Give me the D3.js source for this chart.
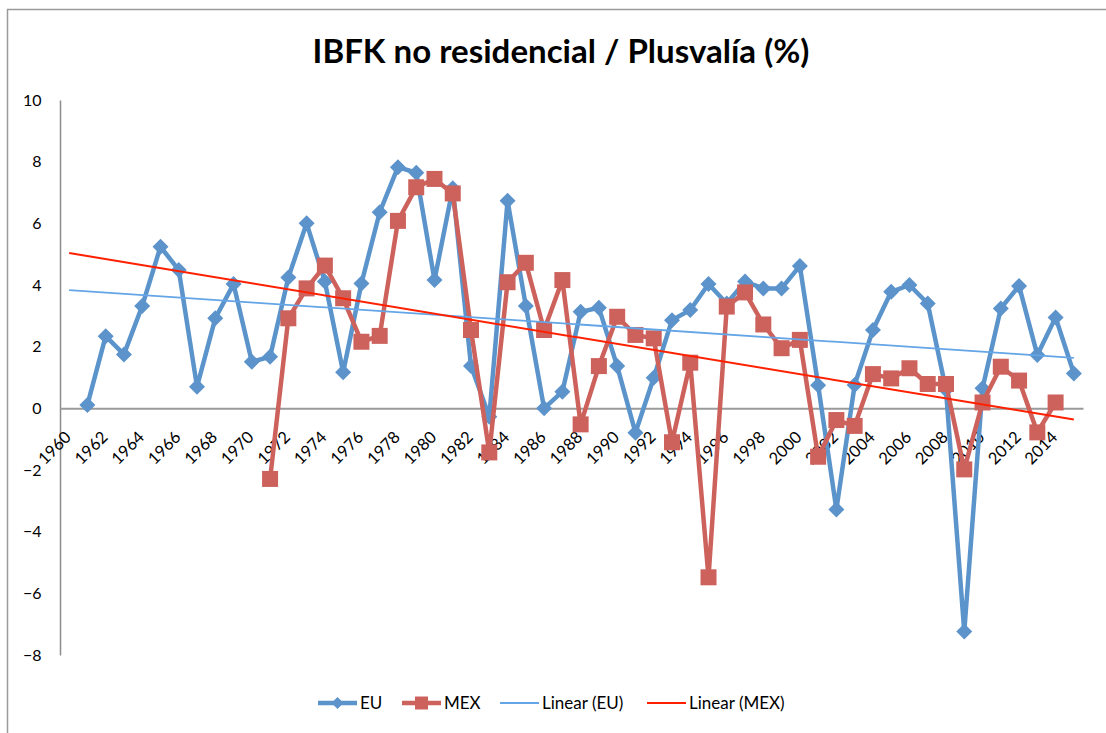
<!DOCTYPE html>
<html>
<head>
  <meta charset="utf-8">
  <title>IBFK no residencial / Plusvalía</title>
  <script src="https://d3js.org/d3.v7.min.js"></script>
  <style>
    body { margin: 0; background: #fff; }
    text { font-family: Lato, "Open Sans", sans-serif; fill: #000; }
  </style>
</head>
<body>
<script>
  // years on the category axis (labels every second year)
  var years = d3.range(1960, 2016);

  // EU series, 1960..2015 (null = no value)
  var eu = [null, 0.11, 2.34, 1.75, 3.32, 5.24, 4.49, 0.70, 2.92, 4.03,
            1.51, 1.67, 4.24, 6.00, 4.11, 1.17, 4.05, 6.36, 7.82, 7.64,
            4.16, 7.14, 1.37, -0.27, 6.73, 3.32, 0.00, 0.54, 3.13, 3.26,
            1.37, -0.79, 0.99, 2.86, 3.19, 4.03, 3.40, 4.11, 3.89, 3.89,
            4.62, 0.75, -3.28, 0.76, 2.54, 3.78, 4.00, 3.40, 0.60, -7.24,
            0.65, 3.24, 3.97, 1.73, 2.95, 1.13];

  // MEX series, 1960..2015
  var mex = [null, null, null, null, null, null, null, null, null, null,
             null, -2.29, 2.92, 3.89, 4.63, 3.57, 2.16, 2.35, 6.08, 7.17,
             7.44, 6.97, 2.54, -1.43, 4.09, 4.72, 2.54, 4.16, -0.52, 1.37,
             2.97, 2.38, 2.27, -1.10, 1.48, -5.48, 3.30, 3.76, 2.72, 1.95,
             2.22, -1.57, -0.38, -0.57, 1.11, 0.97, 1.30, 0.79, 0.79, -1.98,
             0.19, 1.35, 0.90, -0.78, 0.19, null];

  var yTicks = [-8, -6, -4, -2, 0, 2, 4, 6, 8, 10];
  var legendLabels = ["EU", "MEX", "Linear (EU)", "Linear (MEX)"];

  var W = 1106, H = 733;
  var euColor = "#5b93cb", mexColor = "#cd625d";
  var euTrendColor = "#63a5e6", mexTrendColor = "#ff2000";

  var svg = d3.select("body").append("svg")
      .attr("width", W)
      .attr("height", H);

  svg.append("rect")
      .attr("x", 7.5).attr("y", 9.5)
      .attr("width", W + 20).attr("height", H + 20)
      .attr("fill", "#fff")
      .attr("stroke", "#9a9a9a")
      .attr("stroke-width", 1.5);

  var defs = svg.append("defs");
  defs.append("filter").attr("id", "soft")
    .append("feGaussianBlur").attr("stdDeviation", 0.7);

  var x = d3.scaleBand().domain(years).range([60, 1083]);
  var y = d3.scaleLinear().domain([-8, 10]).range([655, 100]);
  var cx = function(yr) { return x(yr) + x.bandwidth() / 2; };

  // title, fitted to the width seen in the reference
  var title = svg.append("text")
      .attr("x", 561).attr("y", 63)
      .attr("text-anchor", "middle")
      .style("font-weight", "bold")
      .style("font-size", "30px")
      .text("IBFK no residencial / Plusvalía (%)");
  var tw = title.node().getComputedTextLength();
  title.style("font-size", (30 * 497 / tw) + "px");

  // y axis
  var yAxis = svg.append("g")
      .attr("transform", "translate(60,0)")
      .call(d3.axisLeft(y).tickValues(yTicks).tickSize(0).tickPadding(18.5));
  yAxis.select(".domain").attr("stroke", "#8c8c8c").attr("stroke-width", 1.5);
  yAxis.selectAll("text")
      .style("font-size", "16px")
      .style("font-family", "Lato, sans-serif");

  // x axis at zero
  var xAxis = svg.append("g")
      .attr("transform", "translate(0," + y(0) + ")")
      .call(d3.axisBottom(x)
        .tickValues(years.filter(function(d) { return d % 2 === 0; }))
        .tickSize(0).tickSizeOuter(0));
  xAxis.select(".domain").attr("stroke", "#9a9a9a").attr("stroke-width", 2);
  xAxis.selectAll("text")
      .style("font-size", "16.5px")
      .style("font-family", "Lato, sans-serif")
      .attr("text-anchor", "end")
      .attr("dy", null)
      .attr("y", 0)
      .attr("transform", "translate(3,30) rotate(-45)");

  function series(vals) {
    return years.map(function(yr, i) { return {year: yr, v: vals[i]}; });
  }

  function trend(vals) {
    var pts = [];
    vals.forEach(function(v, i) { if (v != null) pts.push([i + 1, v]); });
    var mx = d3.mean(pts, function(p) { return p[0]; });
    var my = d3.mean(pts, function(p) { return p[1]; });
    var sxy = d3.sum(pts, function(p) { return (p[0] - mx) * (p[1] - my); });
    var sxx = d3.sum(pts, function(p) { return (p[0] - mx) * (p[0] - mx); });
    var b = sxy / sxx, a = my - b * mx;
    return [{year: years[0], v: a + b * 1},
            {year: years[years.length - 1], v: a + b * years.length}];
  }

  var line = d3.line()
      .defined(function(d) { return d.v != null; })
      .x(function(d) { return cx(d.year); })
      .y(function(d) { return y(d.v); });

  var diamond = "M0,-8L8,0L0,8L-8,0Z";
  var square = "M-8,-8H8V8H-8Z";

  var euData = series(eu), mexData = series(mex);

  svg.append("path").datum(euData)
      .attr("d", line)
      .attr("fill", "none")
      .attr("stroke", euColor)
      .attr("stroke-width", 4.5)
      .attr("stroke-linejoin", "round");
  svg.append("g").attr("filter", "url(#soft)")
    .selectAll("path")
    .data(euData.filter(function(d) { return d.v != null; }))
    .enter().append("path")
      .attr("d", diamond)
      .attr("fill", euColor)
      .attr("transform", function(d) { return "translate(" + cx(d.year) + "," + y(d.v) + ")"; });

  svg.append("path").datum(mexData)
      .attr("d", line)
      .attr("fill", "none")
      .attr("stroke", mexColor)
      .attr("stroke-width", 4.5)
      .attr("stroke-linejoin", "round");
  svg.append("g")
    .selectAll("path")
    .data(mexData.filter(function(d) { return d.v != null; }))
    .enter().append("path")
      .attr("d", square)
      .attr("fill", mexColor)
      .attr("transform", function(d) { return "translate(" + cx(d.year) + "," + y(d.v) + ")"; });

  svg.append("path").datum(trend(eu))
      .attr("d", line)
      .attr("fill", "none")
      .attr("stroke", euTrendColor)
      .attr("stroke-width", 1.8);
  svg.append("path").datum(trend(mex))
      .attr("d", line)
      .attr("fill", "none")
      .attr("stroke", mexTrendColor)
      .attr("stroke-width", 2);

  // legend
  var legX = [318, 402, 500, 647];
  var legend = svg.append("g").attr("transform", "translate(0,703)");
  legendLabels.forEach(function(lbl, i) {
    var g = legend.append("g").attr("transform", "translate(" + legX[i] + ",0)");
    var col = [euColor, mexColor, euTrendColor, mexTrendColor][i];
    g.append("line").attr("x1", 0).attr("x2", 39)
        .attr("stroke", col).attr("stroke-width", i < 2 ? 4.5 : 1.8);
    if (i === 0) g.append("path").attr("d", "M0,-6L6,0L0,6L-6,0Z").attr("fill", col)
        .attr("transform", "translate(19.5,0)").attr("filter", "url(#soft)");
    if (i === 1) g.append("path").attr("d", "M-6.5,-6.5H6.5V6.5H-6.5Z").attr("fill", col)
        .attr("transform", "translate(19.5,0)");
    g.append("text").attr("x", 42).attr("y", 0).attr("dy", "0.35em")
        .style("font-size", "17px").text(lbl);
  });
</script>
</body>
</html>
